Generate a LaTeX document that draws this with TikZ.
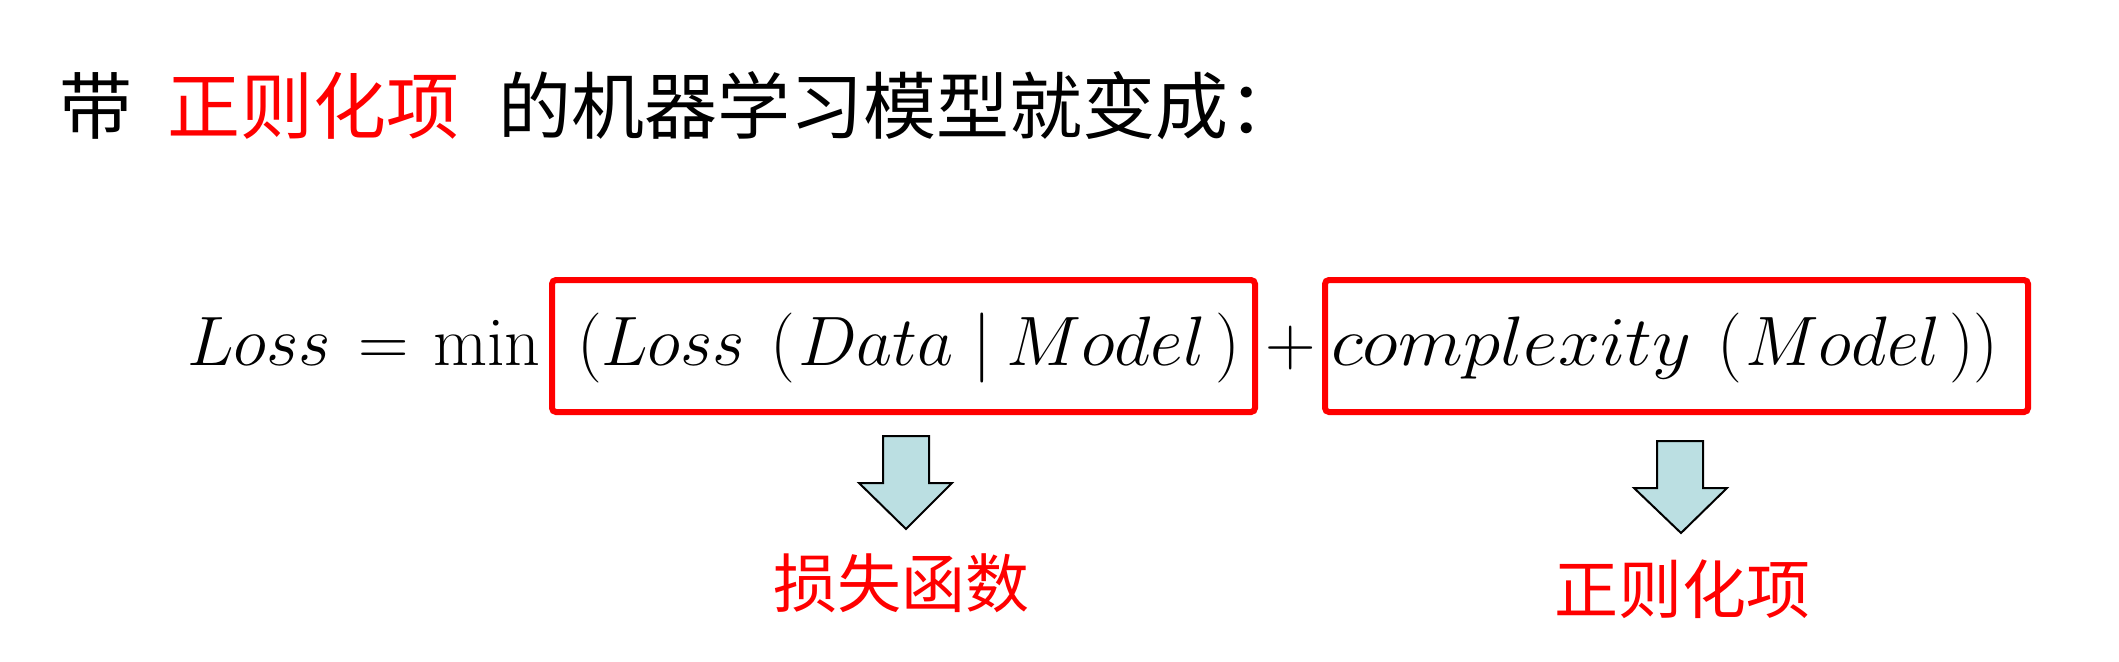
\RequirePackage{fix-cm}
\documentclass[tikz,border=0pt]{standalone}
\usepackage{graphicx}
\usepackage{fontspec}
\newfontfamily\cjk{Noto Sans CJK SC}
\definecolor{pptred}{RGB}{255,0,0}
\definecolor{arrowfill}{RGB}{187,223,226}
\begin{document}
\begin{tikzpicture}[x=0.5pt,y=-0.5pt,
  cn/.style={inner sep=0pt, outer sep=0pt, anchor=base west, font=\cjk\fontsize{36.5}{40}\selectfont},
  lab/.style={inner sep=0pt, outer sep=0pt, anchor=base, font=\cjk\fontsize{32}{36}\selectfont, text=pptred},
  eq/.style={inner sep=0pt, outer sep=0pt, anchor=base west, font=\fontsize{35}{42}\selectfont},
  redbox/.style={draw=pptred, line width=3pt, rounded corners=2pt, minimum width=351.5pt, minimum height=66pt, inner sep=0pt},
  downarrow/.style={draw=black, line width=1pt, fill=arrowfill, line join=miter}]
\useasboundingbox (0,0) rectangle (2119,661);
% title
\node[cn] (t1) at (59,133) {带};
\node[cn, text=pptred] (t2) at (167,133) {正则化项};
\node[cn] (t3) at (498,133) {的机器学习模型就变成：};
% boxes
\node[redbox] (b1) at (903.5,346) {};
\node[redbox] (b2) at (1676.5,346) {};
% equation
\node[eq] (l1) at (187,365) {$Loss$};
\node[eq] (eqs) at (358,365) {$=$};
\node[eq] (mn) at (433,365) {$\min$};
\node[eq] (p1) at (577,365) {$($};
\node[eq] (l2) at (601,365) {$Loss$};
\node[eq] (p2) at (770,365) {$($};
\node[eq] (dt) at (798,365) {$Data$};
\node[eq] (br) at (972,365) {$|$};
\node[eq] (m1) at (1006,365) {\scalebox{1.02}[1]{$Model$}};
\node[eq] (p3) at (1215,365) {$)$};
\node[eq] (pl) at (1265,365) {$+$};
\node[eq] (cx) at (1331,365) {\scalebox{1.08}[1]{$complexity$}};
\node[eq] (p4) at (1717,365) {$($};
\node[eq] (m2) at (1745,365) {$Model$};
\node[eq] (p5) at (1949,365) {$))$};
% arrows
\draw[downarrow] (883,436) -- (929,436) -- (929,483) -- (952,483) -- (906,529) -- (859,483) -- (883,483) -- cycle;
\draw[downarrow] (1657,441) -- (1703,441) -- (1703,488) -- (1727,488) -- (1681,533) -- (1634,488) -- (1657,488) -- cycle;
% labels
\node[lab] (lb1) at (901,607) {损失函数};
\node[lab] (lb2) at (1682,613) {正则化项};
\end{tikzpicture}
\end{document}
